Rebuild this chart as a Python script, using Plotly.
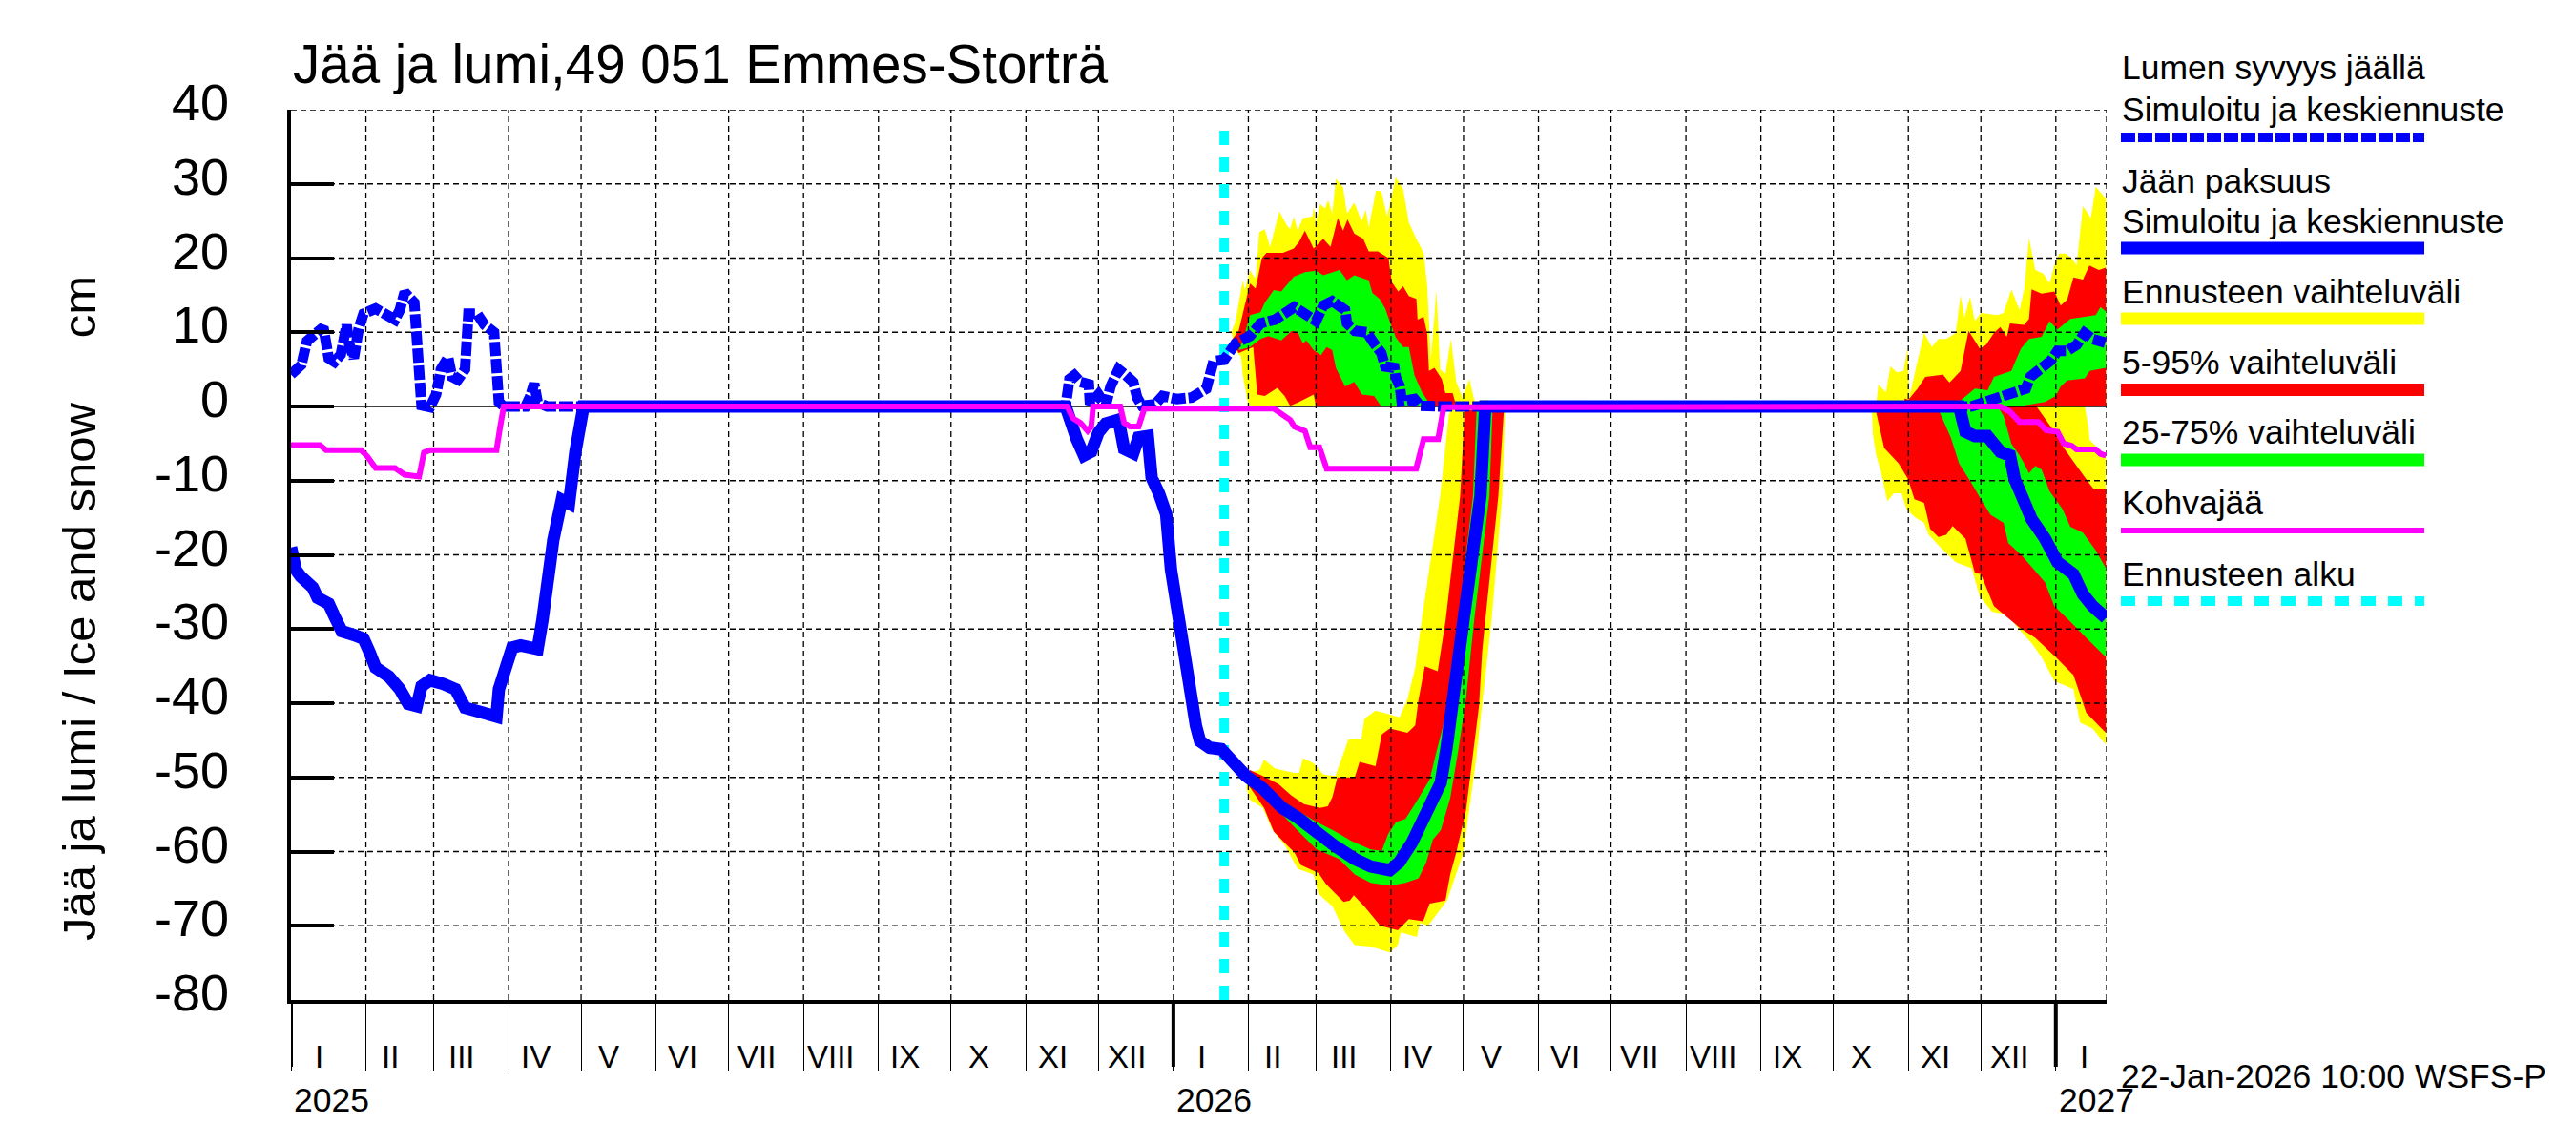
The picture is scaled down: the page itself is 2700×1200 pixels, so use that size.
import pandas as pd
import plotly.graph_objects as go

# Luvut luettu kuvasta: (päivä alkaen 2025-01-01, arvo cm)
START = "2025-01-01"
END = "2027-01-22"

TITLE = "Jää ja lumi,49 051 Emmes-Storträ"
YTITLE = "Jää ja lumi / Ice and snow\u00a0\u00a0\u00a0\u00a0\u00a0cm"
STAMP = "22-Jan-2026 10:00 WSFS-P"
FORECAST_START = "2026-01-22"

y_ticks = [40, 30, 20, 10, 0, -10, -20, -30, -40, -50, -60, -70, -80]
y_labels = ["40", "30", "20", "10", "0", "-10", "-20", "-30", "-40", "-50", "-60", "-70", "-80"]
months = ["I", "II", "III", "IV", "V", "VI", "VII", "VIII", "IX", "X", "XI", "XII"]
years = ["2025", "2026", "2027"]
forecast_line = [-80, 38.5]

snow = [(0, 4.3), (4.3, 5.6), (6.6, 8.8), (10, 9.7), (13.4, 10.7), (15.6, 6.5), (18, 6), (20.6, 7), (23, 11),
        (24, 8.5), (26, 6.5), (28, 10.5), (30, 12.5), (35, 13.2), (38, 12.7), (43, 11.7), (45, 13), (47, 15.4),
        (51, 14), (52, 8), (53, 2.6), (54, 0.15), (57.5, -0.1), (60, 1.6), (62, 5), (65, 6.6), (66.6, 4), (69, 3.6),
        (72, 5), (73.4, 12.5), (77, 12.5), (80, 11), (84, 10), (85, 5.5), (86, 0.6), (88, 0), (97, 0), (99, 1.4),
        (100.6, 3.1), (102, 0.6), (106, 0), (320.4, 0), (322, 3.7), (324, 4.2), (326.5, 3.3), (330, 3), (330.5, 0.3),
        (334, 1.6), (337, 0.1), (339, 2.7), (342.3, 5), (345.4, 4.2), (348.4, 3.3), (350, 1.2), (352, 0.1),
        (357.4, 0.3), (360.5, 1.4), (366.5, 1), (372.5, 1.2), (378.6, 2.4), (380, 5), (381.6, 6.1), (386, 6.3),
        (388.4, 7.2), (390.7, 8.5), (396.7, 9.5), (401, 11.2), (407, 11.7), (415, 13.4), (419.4, 12.5), (424, 11.5),
        (427, 13.6), (430.7, 14.2), (436, 13), (436.8, 11.2), (440, 10.2), (445, 10), (448, 8.5), (451, 7.2),
        (452.6, 5.4), (456.4, 5.2), (457, 3.9), (458.7, 2.7), (459.4, 0.7), (464.7, 1), (467, 0.1), (475, 0),
        (695, 0), (703, 0.8), (711, 1.6), (717.6, 2.4), (719.5, 4), (724.1, 5.1), (728, 6.2), (730.7, 7.5),
        (734.7, 7.5), (738.6, 8.3), (741.9, 9.9), (745.2, 9.1), (750.4, 8.6)]

ice = [(0, -19), (2, -22), (4, -22.9), (9, -24.4), (11, -25.8), (15.6, -26.6), (18, -28.3), (21, -30.3), (26, -30.8),
       (30, -31.3), (32.6, -33.2), (35, -35.2), (40.5, -36.4), (45, -38.1), (48.5, -40.1), (52, -40.4), (54, -37.7),
       (57.5, -36.9), (63, -37.4), (68, -38.1), (72, -40.6), (77, -41), (85, -41.8), (86, -38.1), (88, -36.2),
       (91.5, -32.5), (95, -32.2), (102, -32.7), (104, -28.8), (106, -23.9), (108.5, -18), (112, -12.6), (115, -13.1),
       (117.6, -6.2), (120, -0.8), (121, 0), (320.4, 0), (322.7, -2.7), (325, -4.4), (328, -6.6), (331, -6.1),
       (334, -3.5), (337, -2.3), (342.3, -1.8), (344.6, -5.7), (348.4, -6.3), (350.6, -4.2), (354.4, -4), (356, -9.6),
       (359, -11.7), (362, -14.5), (364, -22), (367, -28.8), (369, -33.1), (371, -36.1), (373, -40), (374.3, -43),
       (376, -45.1), (380, -46), (384.8, -46.2), (388, -47.3), (395, -49.8), (402, -51.5), (410, -54.1), (416.4, -55.4),
       (424.3, -57.6), (432, -59.3), (440, -61), (446.6, -62), (454.5, -62.5), (458.5, -61.4), (463.7, -58.8),
       (470.3, -54.5), (475.6, -50.7), (478, -46), (480, -41.7), (482, -35.2), (485, -28.8), (492, -12.1), (493.4, -0.5),
       (494, 0), (690, 0), (692.6, -3.4), (696.5, -4), (701.7, -4), (707, -6.1), (711, -6.6), (713, -9.8), (716.2, -12.5),
       (720, -15.2), (725.5, -17.8), (730.7, -21), (737.3, -22.6), (741.2, -25.3), (745.2, -26.9), (750.7, -28.5)]

kohva = [(0, -5.2), (12, -5.2), (14.5, -5.9), (29, -5.9), (31.5, -6.7), (35, -8.3), (43, -8.3), (47, -9.2), (53, -9.45),
         (55, -6.2), (57.5, -5.9), (85, -5.9), (86.5, -2.8), (88, 0), (321, 0), (323.5, -1.6), (326.5, -2.2),
         (329.5, -3.3), (331, -2.7), (331.8, 0), (343, 0), (344.6, -2.2), (347, -2.7), (350.6, -2.7), (353, -0.3),
         (406.5, -0.3), (413.3, -1.8), (415, -2.7), (419.4, -3.3), (421.6, -5.5), (425.4, -5.5), (428.4, -8.4),
         (465.4, -8.4), (468.5, -4.4), (474.5, -4.4), (476.8, -0.1), (707, 0), (711, -0.7), (715, -2.1), (722.8, -2.1),
         (726, -3.2), (730.7, -3.4), (733.3, -5), (736.6, -5.3), (738.6, -5.8), (746.5, -5.8), (748.5, -6.4), (750.7, -6.6)]

# talvi 2026, lumi
s1_yellow_top = [(389, 10), (390.7, 11.5), (393.7, 17), (394.5, 15.7), (396.7, 18.3), (399, 17.2), (400.5, 23.5),
                 (402.8, 23.9), (405, 21.5), (408.8, 26.3), (411.8, 24.5), (413.3, 23.9), (414.8, 25.6), (416.4, 23.7),
                 (418.6, 25.4), (422.4, 25.6), (423, 26.9), (424, 24.8), (425.7, 27.3), (427.7, 26.7), (429, 27.8),
                 (430.7, 26), (432.2, 30.7), (435.2, 29.5), (436.8, 26), (439.8, 27.5), (442.8, 25), (444.6, 26.5),
                 (445.8, 24.1), (448.8, 29.1), (451, 29), (453.4, 25.6), (457, 30.9), (460, 29.3), (462.4, 24.8),
                 (465.5, 22.6), (468.5, 20.7), (470, 16.2), (471.5, 6.3), (473.8, 15.7), (475.3, 5), (477.5, 4.4),
                 (479.8, 9.1), (482, 3.3), (484.6, 1.2), (487.4, 3.7), (489.6, 0.7), (495, 0.9), (496.4, 0)]
s1_yellow_low = [(496.4, 0), (396, 0.1), (393.7, 4.2), (393, 6.7), (390.7, 7.6)]
s1_red_top = [(389, 8.9), (392, 10.2), (394.5, 13.6), (396.7, 16.6), (399, 15.9), (401.6, 20), (403.5, 20.7),
              (410.3, 20.7), (414.8, 21.3), (417, 22.2), (419.4, 23.7), (423, 21.3), (427, 22.6), (430, 21.5), (433, 25.4),
              (435.2, 23.7), (437, 25.2), (439.8, 23.3), (443.5, 22.6), (445.8, 20.9), (449.6, 20.9), (454, 20),
              (455.3, 16.8), (458, 15.5), (460, 16.2), (462.4, 14.9), (465.5, 14.5), (466, 11.7), (468.5, 12.1),
              (470, 9.7), (470.7, 4.8), (473, 5.2), (476, 3.7), (477.5, 1.8), (480.5, 1.8), (482, 0.1)]
s1_red_low = [(482, 0), (424, 0), (423, 1.6), (416.4, 0.5), (413.3, 0.1), (411, 1.4), (408, 2.5), (402.8, 1.4),
              (399.7, 1.6), (398, 8), (392, 7.2)]
s1_green_top = [(393.7, 8.9), (396.7, 12.3), (401, 12.7), (402.8, 14), (406.5, 15.7), (409.6, 15.5), (414.8, 17.5),
                (419.4, 18.1), (424, 18.3), (427, 17.7), (433.7, 18.4), (436.8, 17), (439.8, 17.7), (445.8, 17),
                (447.3, 15.3), (450.3, 14.5), (452.6, 13.2), (455, 11), (457, 9.3), (460, 8), (462.4, 8), (464.7, 4.2),
                (467.7, 2), (471.5, 0.1)]
s1_green_low = [(471.5, 0), (451, 0), (448, 1.4), (443, 1.6), (439.8, 3.3), (436, 2.7), (432.2, 5.2), (430.7, 7.6),
                (428.4, 8), (426, 6.9), (423, 7.6), (420, 8.9), (418.6, 8.5), (416.4, 10), (414, 10.2), (409.6, 8.9),
                (404.3, 9.5), (401, 9.1), (396.7, 8), (392, 7.6)]

# talvi 2026, jää
i1_yellow_top = [(395.3, -49.4), (400.6, -49), (402.5, -47.6), (407, -48.8), (415, -49.4), (417, -49.4), (418.6, -47.4),
                 (423, -48.1), (427, -49.6), (432, -49.8), (437.4, -44.9), (442.7, -44.9), (444, -42.1), (448.6, -41),
                 (454.5, -41.5), (458.5, -41.9), (461.8, -39.5), (465, -35.2), (467.7, -28.8), (475.3, -12.1), (479, -1),
                 (481.3, -0.1)]
i1_yellow_low = [(502.2, -0.5), (501, -12.1), (496.6, -28.8), (490, -48.1), (484.8, -60.3), (478.2, -66.6), (470.3, -70),
                 (467, -69.6), (465.7, -71.5), (459, -70.9), (457.8, -72.6), (454.5, -73.6), (446.6, -72.8), (440, -72.6),
                 (436, -70.9), (430.8, -67.4), (425, -65.7), (423, -63.1), (416.4, -62.3), (411, -59.1), (405.8, -57),
                 (402, -54.1), (396.6, -53), (395.3, -51.5)]
i1_red_top = [(396.6, -49), (402, -49.8), (408.5, -50.9), (413.7, -52.4), (419, -53.6), (425.6, -54.1), (428.9, -53.9),
              (430.8, -52.6), (432.8, -50), (440, -50), (442, -47.9), (448.6, -48.5), (451.2, -44.2), (454.5, -43.4),
              (461.8, -44), (465, -43), (466.4, -39.5), (469, -35), (474.3, -35.7), (477.6, -28.8), (483.6, -12.1),
              (485.5, -0.5)]
i1_red_low = [(501.7, -0.5), (499.4, -12.1), (494, -28.8), (492.7, -33.1), (491.4, -40.4), (486, -54.5), (482, -60.1),
              (479.5, -63.1), (477.5, -66.6), (471, -67), (468.3, -69.4), (462.4, -69.1), (457.8, -70.6), (450.6, -70),
              (444, -67.4), (439.6, -65.9), (438, -66.6), (435.4, -66.8), (428.2, -64.4), (425, -62.9), (417.7, -61.8),
              (415, -60.1), (411, -58.8), (406.5, -57.3), (402.5, -54.1), (395.3, -50.7)]
i1_green_top = [(399, -50.7), (408.5, -52.8), (419, -55), (424.3, -56), (432, -57.3), (438.7, -58.6), (446.6, -59.7),
                (451.2, -59.9), (453.9, -57.6), (457.1, -56), (461, -55.6), (466.4, -52.8), (471, -50.3), (473.6, -46.8),
                (477.6, -41.7), (479.5, -36.1), (482.8, -28.8), (488.9, -12.1), (490.4, -0.5)]
i1_green_low = [(497, -0.5), (495.7, -12.1), (489.4, -28.8), (486, -39.5), (482.8, -46.4), (479.5, -52.8), (475.6, -57.1),
                (472.3, -58.4), (469.6, -61.4), (466.4, -63.6), (461, -64.2), (454.5, -64.6), (446.6, -64.2), (440, -63.1),
                (433.5, -61), (424.3, -59.7), (417.7, -57.6), (408.5, -54.5), (400.6, -52.2)]

# talvi 2027, lumi
s2_yellow_top = [(655, 0), (655.7, 0.3), (656.6, 3), (659.7, 1.9), (661.6, 5.4), (664.3, 4.6), (667, 4.8), (668.6, 7.8),
                 (669.5, 1.4), (672, 5), (675.5, 9.9), (678.7, 8), (681.4, 9.1), (684.7, 9.1), (688.6, 9.9), (690.6, 15),
                 (692.3, 12), (694.5, 14.8), (696.5, 11.5), (699, 12.6), (705.7, 12.3), (708.4, 12.6), (711.6, 15.8),
                 (715, 13), (716.9, 15.8), (718.9, 22.7), (721.5, 18.4), (724.8, 17.9), (727.4, 16.6), (729.4, 19),
                 (731.4, 20.6), (734, 20.6), (736.6, 20), (738.6, 19), (741.2, 27), (744.5, 25.4), (746.5, 29.6),
                 (750.7, 28)]
s2_yellow_low = [(750.7, 0), (655, 0)]
s2_red_top = [(667, 0), (667.5, 1.1), (669, 0.9), (672.8, 2.4), (676, 4), (683.3, 4.3), (686, 3.2), (690.6, 4.8),
              (693.9, 10.2), (698.5, 7.8), (701.1, 8.3), (704.4, 9.9), (707, 10.7), (709.7, 9.4), (711, 11.2), (716.9, 11),
              (718.9, 11.8), (720, 15.8), (724.1, 15.2), (729.4, 15.5), (732, 13.6), (734.7, 14.4), (737.3, 17.4),
              (741.2, 17.1), (743.9, 19), (747.8, 18.4), (750.7, 18.7)]
s2_red_low = [(750.7, 0), (667, 0)]
s2_green_top = [(688, 0), (690.6, 0.8), (696.5, 2.4), (701.8, 2.2), (704.4, 4), (711.6, 4.8), (713, 5.9), (715.6, 7.8),
                (718.9, 9.1), (724.1, 9.4), (727.4, 11.5), (730.7, 10.4), (736, 11.8), (740, 12), (746.5, 12.3),
                (748.5, 13.4), (750.7, 12.8)]
s2_green_low = [(750.7, 5.2), (744, 4.8), (742, 3.8), (734.7, 3.5), (732, 2.7), (730, 1.4), (725.5, 0.6), (716.2, 0.1),
                (707, 0), (688, 0)]

# talvi 2027, jää
i2_yellow_top = [(654, 0), (742, 0), (743.3, -2.5), (744, -4.5), (748, -5.8), (750.7, -6.6)]
i2_yellow_low = [(750.7, -45.6), (745.2, -43.4), (740, -42.6), (737.3, -38.1), (729.4, -37), (724.1, -33.8), (720.2, -32),
                 (715, -30.1), (709.7, -28), (703.7, -27.7), (698.5, -25.6), (695.2, -21.8), (688.6, -21), (682, -18.9),
                 (677.4, -17.3), (675.5, -15.7), (671.5, -14.9), (668.2, -13.8), (666.2, -11.7), (663, -11.7),
                 (660.3, -12.8), (657.7, -8.8), (655.7, -6.6), (654.4, -4), (654, -1.3)]
i2_red_top = [(655, 0), (722, 0), (729.4, -3.4), (733.3, -5.6), (738.6, -8), (743.9, -10.4), (745.8, -11.2), (750.7, -11.2)]
i2_red_low = [(750.7, -44), (742.6, -41.3), (737.3, -36.2), (730, -33.8), (721.5, -31.2), (715, -29.8), (704.4, -26.9),
              (699, -22.6), (696.5, -22.4), (692.6, -17.8), (687.3, -16.1), (684.7, -17.3), (681.4, -17.6), (678, -16.5),
              (675.5, -13), (671.5, -12.5), (668.9, -9.8), (665, -7.7), (659, -5.6), (655.7, -0.8)]
i2_green_top = [(682, 0), (706, 0), (708.4, -1.3), (711.6, -5), (715, -6.6), (716.9, -7.7), (718.9, -9), (721.5, -8),
                (724.1, -8.5), (727.4, -11.4), (732.7, -13.8), (736, -16.2), (741.2, -17), (746.5, -19.4), (750.7, -21.8)]
i2_green_low = [(750.7, -33.8), (742.6, -31.2), (736, -29), (729.4, -26.9), (725.5, -23.7), (716.2, -20.2), (710.3, -18.4),
                (708.4, -15.7), (703, -14.6), (699, -12.5), (695.2, -10.4), (690, -7.7), (686.6, -4.2), (682, -0.8)]

legend_labels = ["Lumen syvyys jäällä", "Simuloitu ja keskiennuste", "Jään paksuus", "Simuloitu ja keskiennuste",
                 "Ennusteen vaihteluväli", "5-95% vaihteluväli", "25-75% vaihteluväli", "Kohvajää", "Ennusteen alku"]

BLUE, YELLOW, RED, GREEN, MAGENTA, CYAN = "#0000ff", "#ffff00", "#ff0000", "#00ff00", "#ff00ff", "#00ffff"

# kuvan mitat pikseleinä
W, H = 2700, 1200
LEFT, RIGHT, TOP, BOTTOM = 305, 2208, 115, 1048


def px(x):
    return (x - LEFT) / (RIGHT - LEFT)


def py(y):
    return (BOTTOM - y) / (BOTTOM - TOP)


def dates(points):
    return pd.Timestamp(START) + pd.to_timedelta([p[0] for p in points], unit="D")


def band(top, low, color):
    edge = top + low
    return go.Scatter(x=dates(edge), y=[p[1] for p in edge], mode="none", fill="toself",
                      fillcolor=color, hoverinfo="skip")


def curve(points, color, width, dash="solid"):
    return go.Scatter(x=dates(points), y=[p[1] for p in points], mode="lines", cliponaxis=False,
                      line=dict(color=color, width=width, dash=dash), hoverinfo="skip")


fig = go.Figure()

# vaihteluvälit
for top, low, color in [
    (s1_yellow_top, s1_yellow_low, YELLOW), (i1_yellow_top, i1_yellow_low, YELLOW),
    (s2_yellow_top, s2_yellow_low, YELLOW), (i2_yellow_top, i2_yellow_low, YELLOW),
    (s1_red_top, s1_red_low, RED), (i1_red_top, i1_red_low, RED),
    (s2_red_top, s2_red_low, RED), (i2_red_top, i2_red_low, RED),
    (s1_green_top, s1_green_low, GREEN), (i1_green_top, i1_green_low, GREEN),
    (s2_green_top, s2_green_low, GREEN), (i2_green_top, i2_green_low, GREEN),
]:
    fig.add_trace(band(top, low, color))

# ruudukko on täällä koska sen pitää näkyä värialueiden päällä
month_starts = pd.date_range(START, "2027-01-01", freq="MS")
grid_x, grid_y = [], []
for d in list(month_starts[1:]) + [pd.Timestamp(END)]:
    grid_x += [d, d, None]
    grid_y += [-80, 40, None]
for v in y_ticks:
    if v not in (0, -80):
        grid_x += [pd.Timestamp(START), pd.Timestamp(END), None]
        grid_y += [v, v, None]
fig.add_trace(go.Scatter(x=grid_x, y=grid_y, mode="lines", hoverinfo="skip",
                         line=dict(color="black", width=1.3, dash="6px,4px")))
fig.add_trace(go.Scatter(x=[START, END], y=[0, 0], mode="lines", hoverinfo="skip",
                         line=dict(color="black", width=1.5)))

fig.add_trace(go.Scatter(x=[FORECAST_START] * 2, y=forecast_line, mode="lines", hoverinfo="skip",
                         line=dict(color=CYAN, width=10, dash="15px,13px")))
fig.add_trace(curve(ice, BLUE, 13))
fig.add_trace(curve(snow, BLUE, 11, "15px,3px"))
fig.add_trace(curve(kohva, MAGENTA, 6))

FONT = "Liberation Sans"
ann = []
ann.append(dict(text=TITLE, xref="paper", yref="paper", x=0, y=1, yshift=48, xanchor="left", yanchor="middle",
                showarrow=False, font=dict(size=56.5)))
ann.append(dict(text=YTITLE, xref="paper", yref="paper", x=px(83), y=py(638), xanchor="center", yanchor="middle",
                textangle=-90, showarrow=False, font=dict(size=49)))
ann.append(dict(text=STAMP, xref="paper", yref="paper", x=px(2221), y=py(1128), xanchor="left", yanchor="middle",
                showarrow=False, font=dict(size=35.5)))

# y-akselin numerot ovat hieman viivan yläpuolella
for v, label in zip(y_ticks, y_labels):
    ann.append(dict(text=label, xref="paper", yref="y", x=px(242), y=v, yshift=8, xanchor="right", yanchor="middle",
                    showarrow=False, font=dict(size=54)))

# kuukaudet ja vuodet akselin alla
for d in month_starts:
    nxt = d + pd.offsets.MonthBegin(1)
    mid = min(d + (nxt - d) / 2, pd.Timestamp(END))
    ann.append(dict(text=months[d.month - 1], x=mid, xref="x", yref="paper", y=py(1107), xshift=-10,
                    xanchor="center", yanchor="middle", showarrow=False, font=dict(size=33)))
for label in years:
    ann.append(dict(text=label, x=label + "-01-01", xref="x", yref="paper", y=py(1153), xshift=1,
                    xanchor="left", yanchor="middle", showarrow=False, font=dict(size=35.5)))

# selite käsin, koska sijainnit eivät ole plotlyn legendan
legend_y = [71.5, 115, 189.5, 232, 306, 379.5, 453, 527, 601.5]
for label, y in zip(legend_labels, legend_y):
    ann.append(dict(text=label, xref="paper", yref="paper", x=px(2222), y=py(y), xanchor="left", yanchor="middle",
                    showarrow=False, font=dict(size=35.5)))

shapes = []
for y, color, width, dash in [
    (144, BLUE, 10, "15px,3px"), (260, BLUE, 13, "solid"), (334, YELLOW, 13, "solid"), (408.5, RED, 13, "solid"),
    (482, GREEN, 13, "solid"), (556, MAGENTA, 6, "solid"), (630, CYAN, 10, "15px,13px"),
]:
    shapes.append(dict(type="line", xref="paper", yref="paper", x0=px(2223), x1=px(2541), y0=py(y), y1=py(y),
                       line=dict(color=color, width=width, dash=dash)))
# vuoden vaihteen paksut viivat
for label in years:
    shapes.append(dict(type="line", xref="x", yref="paper", x0=label + "-01-01", x1=label + "-01-01",
                       y0=0, y1=py(1118), line=dict(color="black", width=4)))

fig.update_layout(
    width=W, height=H, autosize=False, showlegend=False,
    margin=dict(l=LEFT, r=W - RIGHT, t=TOP, b=H - BOTTOM, pad=0),
    paper_bgcolor="white", plot_bgcolor="white",
    font=dict(family=FONT, color="black"),
    annotations=ann, shapes=shapes,
)
fig.update_xaxes(type="date", range=[START, END], tickvals=month_starts, ticktext=[""] * len(month_starts),
                 ticks="outside", ticklen=70, tickwidth=1, tickcolor="black", showgrid=False, zeroline=False,
                 showline=True, linecolor="black", linewidth=4)
fig.update_yaxes(range=[-80, 40], tickvals=y_ticks, ticks="inside", ticklen=45, tickwidth=4, tickcolor="black",
                 showticklabels=False, showgrid=False, zeroline=False, showline=True, linecolor="black", linewidth=4)

fig.write_html("out.html", config={"displayModeBar": False}, post_script="document.body.style.margin='0';")
